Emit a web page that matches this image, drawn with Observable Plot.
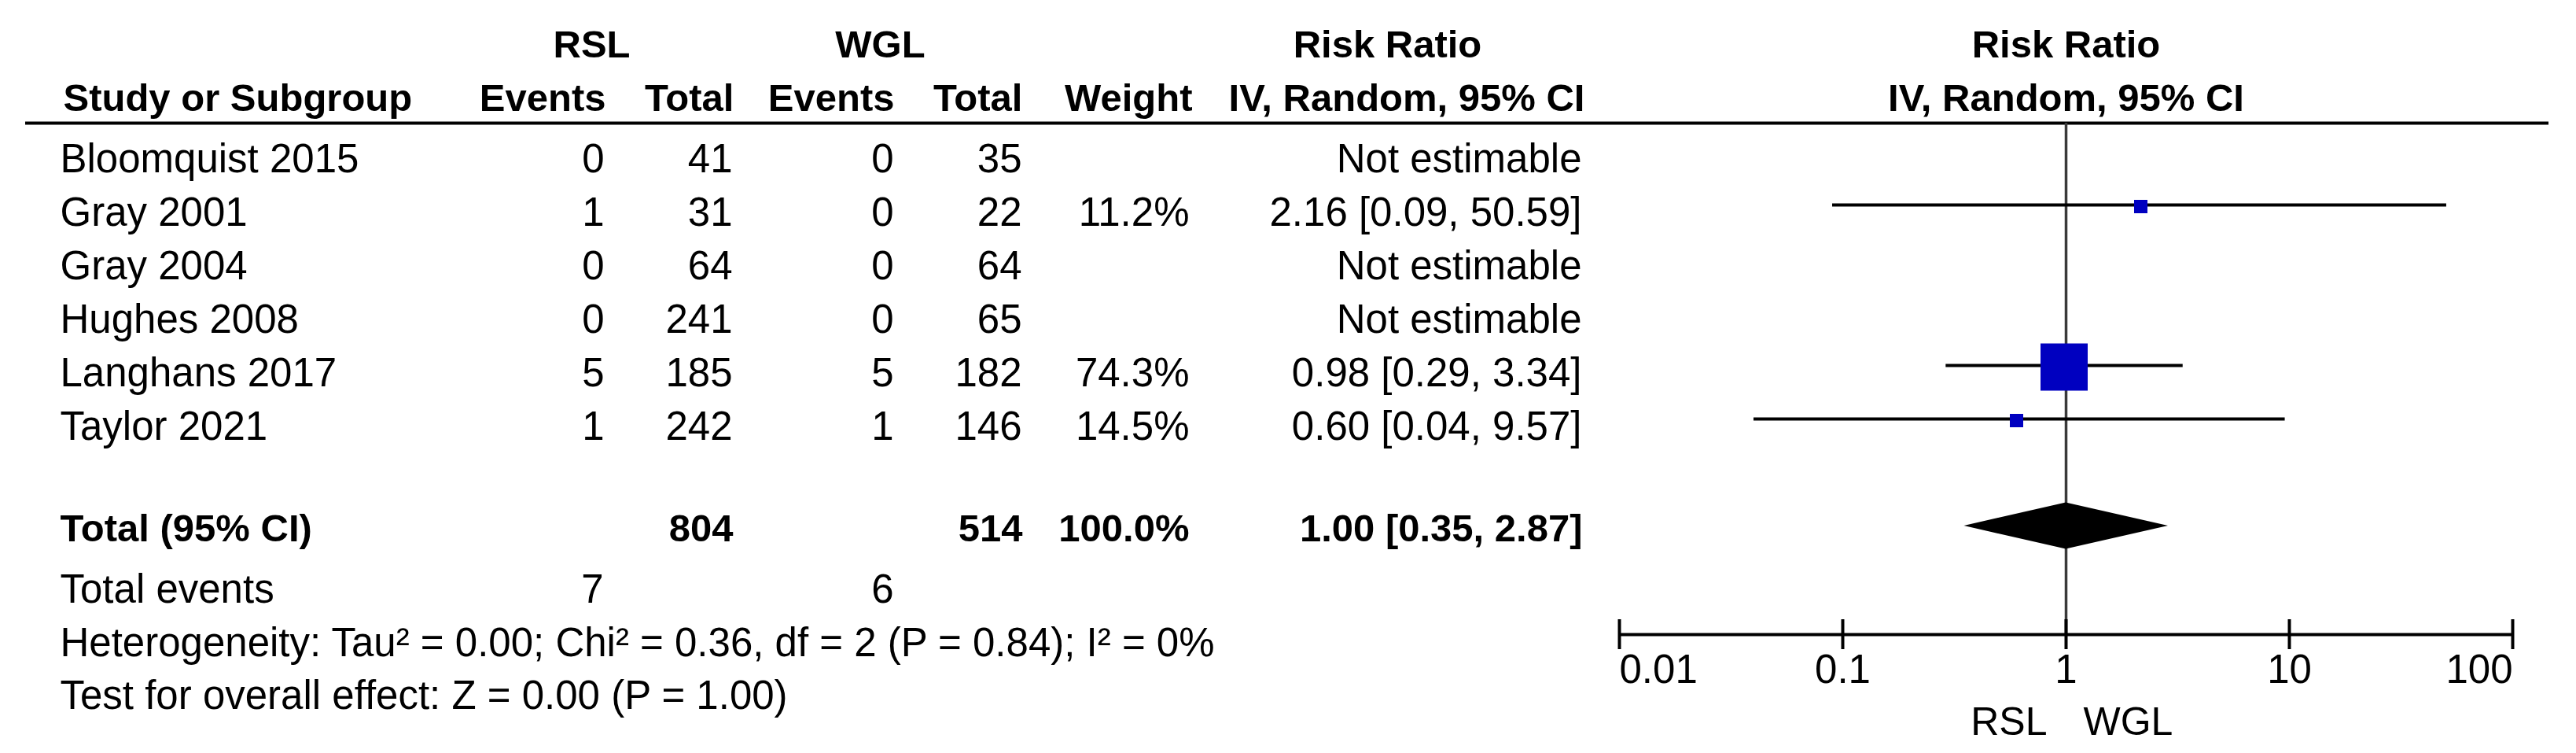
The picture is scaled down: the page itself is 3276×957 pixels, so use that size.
<!DOCTYPE html>
<html>
<head>
<meta charset="utf-8">
<script src="https://cdn.jsdelivr.net/npm/d3@7"></script>
<script src="https://cdn.jsdelivr.net/npm/@observablehq/plot@0.6"></script>
<style>
  html, body { margin: 0; padding: 0; background: #fff; }
  #chart svg { display: block; }
</style>
</head>
<body>
<div id="chart"></div>
<script>
// ---------------- data ----------------
const studies   = ["Bloomquist 2015", "Gray 2001", "Gray 2004", "Hughes 2008", "Langhans 2017", "Taylor 2021"];
const rslEvents = [0, 1, 0, 0, 5, 1];
const rslTotal  = [41, 31, 64, 241, 185, 242];
const wglEvents = [0, 0, 0, 0, 5, 1];
const wglTotal  = [35, 22, 64, 65, 182, 146];
const weights   = [null, 11.2, null, null, 74.3, 14.5];
const riskRatio = [null, 2.16, null, null, 0.98, 0.60];
const ciLower   = [null, 0.09, null, null, 0.29, 0.04];
const ciUpper   = [null, 50.59, null, null, 3.34, 9.57];

const totalRSL = 804, totalWGL = 514, totalWeight = 100.0;
const pooledRR = 1.00, pooledLo = 0.35, pooledHi = 2.87;
const eventsRSL = 7, eventsWGL = 6;
const heterogeneityText = "Heterogeneity: Tau² = 0.00; Chi² = 0.36, df = 2 (P = 0.84); I² = 0%";
const overallText = "Test for overall effect: Z = 0.00 (P = 1.00)";

const tickValues = [0.01, 0.1, 1, 10, 100];
const tickLabels = ["0.01", "0.1", "1", "10", "100"];
const groupLabels = ["RSL", "WGL"];

// ---------------- layout ----------------
const W = 3276, H = 957, ML = 32, MR = 35;
const ROW0 = 218, ROWH = 68;                 // baseline of first study row, row pitch
const rowOf = px => (px - ROW0) / ROWH;      // layout pixel -> row units
const HEAD1 = rowOf(72), HEAD2 = rowOf(140), RULE = rowOf(156);
const TOTAL = rowOf(687), EVENTS = rowOf(765), HET = rowOf(833), TEST = rowOf(900);
const AXIS = rowOf(806), TICKLAB = rowOf(867), GROUPLAB = rowOf(933);
const TICKH = 19 / ROWH, DIAH = 29.5 / ROWH;

const fmt2 = v => v.toFixed(2);
const rows = studies.map((s, i) => ({
  i, study: s,
  re: rslEvents[i], rt: rslTotal[i], we: wglEvents[i], wt: wglTotal[i],
  w: weights[i], rr: riskRatio[i], lo: ciLower[i], hi: ciUpper[i],
  wText: weights[i] == null ? "" : weights[i].toFixed(1) + "%",
  ciText: riskRatio[i] == null ? "Not estimable" : `${fmt2(riskRatio[i])} [${fmt2(ciLower[i])}, ${fmt2(ciUpper[i])}]`
}));
const est = rows.filter(d => d.rr != null);

const FONT = "'Liberation Sans', Arial, sans-serif";
const reg  = {fontFamily: FONT, fontSize: 51, fill: "#000", lineAnchor: "bottom"};
const bold = {fontFamily: FONT, fontSize: 49, fontWeight: "bold", fill: "#000", lineAnchor: "bottom"};

// a column of text at horizontal layout position xpx
const col = (data, y, text, xpx, anchor, style) =>
  Plot.text(data, {y, text, frameAnchor: "left", dx: xpx - ML, textAnchor: anchor, ...style});
const one = (label, y, xpx, anchor, style) =>
  col([label], () => y, d => d, xpx, anchor, style);

const diamond = [
  {x: pooledLo, y1: TOTAL, y2: TOTAL},
  {x: pooledRR, y1: TOTAL - DIAH, y2: TOTAL + DIAH},
  {x: pooledHi, y1: TOTAL, y2: TOTAL}
];
const ticks = tickValues.map((v, i) => ({v, label: tickLabels[i],
  anchor: i === 0 ? "start" : i === tickValues.length - 1 ? "end" : "middle"}));

const chart = Plot.plot({
  width: W, height: H,
  marginLeft: ML, marginRight: MR, marginTop: 0, marginBottom: 0,
  style: {background: "#fff", overflow: "visible"},
  x: {type: "log", domain: [0.01, 100], range: [2059, 3195], axis: null},
  y: {type: "linear", domain: [0, 5], range: [ROW0, ROW0 + 5 * ROWH], axis: null},
  r: {type: "linear", domain: [14.5, 74.3], range: [9.6, 33.85], clamp: true},
  marks: [
    // header
    one("RSL", HEAD1, 752, "middle", bold),
    one("WGL", HEAD1, 1119, "middle", bold),
    one("Risk Ratio", HEAD1, 1764, "middle", bold),
    Plot.text(["Risk Ratio"], {x: () => 1, y: () => HEAD1, text: d => d, textAnchor: "middle", ...bold}),
    one("Study or Subgroup", HEAD2, 80, "start", bold),
    one("Events", HEAD2, 770, "end", bold),
    one("Total", HEAD2, 933, "end", bold),
    one("Events", HEAD2, 1137, "end", bold),
    one("Total", HEAD2, 1300, "end", bold),
    one("Weight", HEAD2, 1516, "end", bold),
    one("IV, Random, 95% CI", HEAD2, 2015, "end", bold),
    Plot.text(["IV, Random, 95% CI"], {x: () => 1, y: () => HEAD2, text: d => d, textAnchor: "middle", ...bold}),
    Plot.ruleY([RULE], {stroke: "#000", strokeWidth: 4}),

    // study rows
    col(rows, "i", "study", 76, "start", reg),
    col(rows, "i", "re", 768, "end", reg),
    col(rows, "i", "rt", 931, "end", reg),
    col(rows, "i", "we", 1136, "end", reg),
    col(rows, "i", "wt", 1299, "end", reg),
    col(rows, "i", "wText", 1512, "end", reg),
    col(rows, "i", "ciText", 2011, "end", reg),

    // totals
    one("Total (95% CI)", TOTAL, 76, "start", bold),
    one(String(totalRSL), TOTAL, 932, "end", bold),
    one(String(totalWGL), TOTAL, 1300, "end", bold),
    one(totalWeight.toFixed(1) + "%", TOTAL, 1512, "end", bold),
    one(`${fmt2(pooledRR)} [${fmt2(pooledLo)}, ${fmt2(pooledHi)}]`, TOTAL, 2012, "end", bold),
    one("Total events", EVENTS, 76, "start", reg),
    one(String(eventsRSL), EVENTS, 767, "end", reg),
    one(String(eventsWGL), EVENTS, 1136, "end", reg),
    one(heterogeneityText, HET, 76, "start", reg),
    one(overallText, TEST, 76, "start", reg),

    // forest plot
    Plot.ruleX([1], {x: d => d, y1: () => RULE, y2: () => AXIS, stroke: "#3a3a3a", strokeWidth: 3.5}),
    Plot.ruleY(est, {x1: "lo", x2: "hi", y: "i", dy: -26, stroke: "#000", strokeWidth: 4}),
    Plot.dot(est, {x: "rr", y: "i", dy: -24, r: "w", symbol: "square", fill: "#0000C0", stroke: "none"}),
    Plot.areaY(diamond, {x: "x", y1: "y1", y2: "y2", dy: -19, fill: "#000", curve: "linear"}),

    // axis
    Plot.ruleY([AXIS], {x1: () => tickValues[0], x2: () => tickValues[tickValues.length - 1], stroke: "#000", strokeWidth: 4}),
    Plot.ruleX(ticks, {x: "v", y1: () => AXIS - TICKH, y2: () => AXIS + TICKH, stroke: "#000", strokeWidth: 4}),
    ...["start", "middle", "end"].map(a =>
      Plot.text(ticks.filter(t => t.anchor === a), {x: "v", y: () => TICKLAB, text: "label", textAnchor: a, ...reg})),
    Plot.text([groupLabels[0]], {x: () => 1, y: () => GROUPLAB, text: d => d, dx: -24, textAnchor: "end", ...reg, fontSize: 50}),
    Plot.text([groupLabels[1]], {x: () => 1, y: () => GROUPLAB, text: d => d, dx: 22, textAnchor: "start", ...reg, fontSize: 50})
  ]
});
document.getElementById("chart").append(chart);
</script>
</body>
</html>
